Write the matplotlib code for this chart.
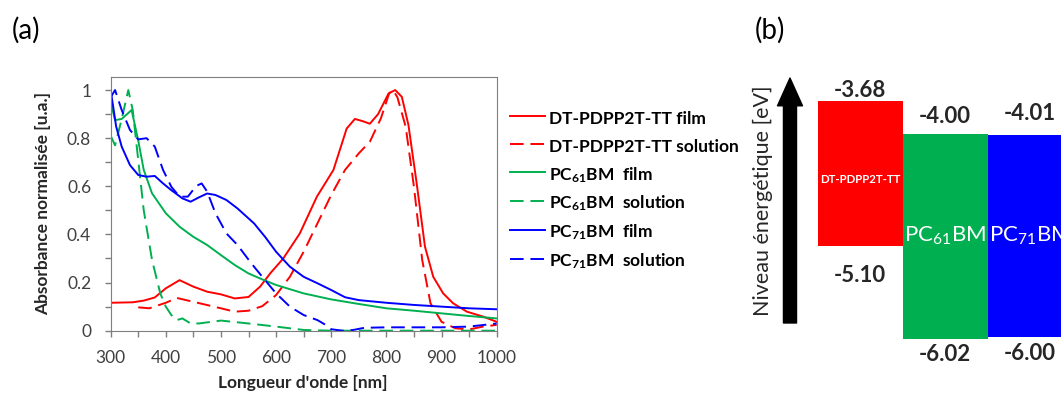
import numpy as np
import matplotlib
matplotlib.use("Agg")
import matplotlib.pyplot as plt
from matplotlib.patches import FancyArrowPatch
from matplotlib.ticker import MultipleLocator

plt.rcParams['font.family'] = ['Lato', 'DejaVu Sans']
plt.rcParams['mathtext.default'] = 'regular'

# --- absorption spectra ---
red_film_x = [300, 340, 360, 380, 400, 425, 450, 475, 500, 525, 550, 571, 590, 613, 643, 674, 704,
              728, 743, 758, 770, 785, 804, 816, 828, 840, 855, 870, 885, 903, 921, 946, 976, 1000]
red_film_y = [0.116, 0.118, 0.125, 0.138, 0.176, 0.21, 0.183, 0.162, 0.151, 0.134, 0.14, 0.183, 0.24,
              0.30, 0.404, 0.557, 0.668, 0.84, 0.88, 0.87, 0.86, 0.90, 0.986, 1.0, 0.972, 0.855,
              0.612, 0.349, 0.224, 0.155, 0.114, 0.079, 0.058, 0.037]

red_sol_x = [350, 370, 400, 420, 450, 500, 525, 550, 575, 600, 625, 650, 675, 700, 725, 750, 770,
             790, 805, 812, 820, 835, 850, 865, 880, 900, 925, 950, 975, 1000]
red_sol_y = [0.097, 0.093, 0.116, 0.136, 0.12, 0.093, 0.079, 0.083, 0.102, 0.148, 0.224, 0.328,
             0.446, 0.564, 0.668, 0.737, 0.785, 0.882, 0.986, 1.0, 0.97, 0.848, 0.598, 0.294,
             0.114, 0.037, 0.01, 0.005, 0.017, 0.024]

green_film_x = [300, 308, 320, 338, 350, 360, 375, 400, 425, 450, 475, 500, 525, 550, 575, 600,
                650, 700, 750, 800, 850, 900, 950, 1000]
green_film_y = [0.95, 0.875, 0.88, 0.917, 0.79, 0.668, 0.571, 0.488, 0.432, 0.39, 0.356, 0.314,
                0.273, 0.238, 0.213, 0.19, 0.155, 0.13, 0.111, 0.093, 0.083, 0.072, 0.061, 0.051]

green_sol_x = [300, 308, 320, 332, 340, 350, 360, 375, 390, 400, 410, 420, 430, 445, 460, 500, 550,
               600, 650, 700, 800, 900, 1000]
green_sol_y = [0.81, 0.77, 0.88, 1.0, 0.917, 0.709, 0.50, 0.294, 0.155, 0.10, 0.065, 0.044, 0.051,
               0.03, 0.03, 0.042, 0.03, 0.017, 0.003, 0.0, 0.0, 0.0, 0.0]

blue_film_x = [300, 310, 320, 335, 350, 365, 380, 395, 410, 430, 445, 460, 475, 490, 510, 530, 560,
               580, 600, 625, 650, 675, 700, 725, 750, 800, 850, 900, 950, 1000]
blue_film_y = [1.0, 0.848, 0.765, 0.688, 0.647, 0.64, 0.643, 0.612, 0.584, 0.55, 0.536, 0.554,
               0.57, 0.564, 0.543, 0.508, 0.446, 0.39, 0.328, 0.266, 0.224, 0.197, 0.169, 0.139,
               0.127, 0.116, 0.107, 0.10, 0.093, 0.089]

blue_sol_x = [300, 308, 320, 335, 350, 365, 380, 395, 410, 425, 440, 455, 465, 475, 490, 510, 530,
              555, 580, 600, 625, 650, 675, 690, 700, 720, 740, 760, 800, 900, 950, 1000]
blue_sol_y = [0.97, 1.0, 0.917, 0.834, 0.795, 0.80, 0.765, 0.668, 0.598, 0.557, 0.557, 0.601,
              0.612, 0.578, 0.488, 0.404, 0.356, 0.28, 0.21, 0.155, 0.10, 0.065, 0.044, 0.024,
              0.006, 0.0, 0.003, 0.012, 0.014, 0.014, 0.017, 0.03]

series_labels = ["DT-PDPP2T-TT film", "DT-PDPP2T-TT solution",
                 "PC$_{61}$BM  film", "PC$_{61}$BM  solution",
                 "PC$_{71}$BM  film", "PC$_{71}$BM  solution"]

# --- energy levels [eV] ---
materials = ["DT-PDPP2T-TT", "PC$_{61}$BM", "PC$_{71}$BM"]
lumo = [-3.68, -4.00, -4.01]
homo = [-5.10, -6.02, -6.00]
level_labels_top = ["-3.68", "-4.00", "-4.01"]
level_labels_bot = ["-5.10", "-6.02", "-6.00"]

RED, GREEN, BLUE = "#FF0000", "#00B050", "#0000FF"
TXT = "#262626"

fig = plt.figure(figsize=(10.61, 3.94), dpi=100)

# ---------------- panel (a) ----------------
ax = fig.add_axes([0.1043, 0.1607, 0.3638, 0.6431])
dash = (7, 3.5)
curves = [(red_film_x, red_film_y, RED, None), (red_sol_x, red_sol_y, RED, dash),
          (green_film_x, green_film_y, GREEN, None), (green_sol_x, green_sol_y, GREEN, dash),
          (blue_film_x, blue_film_y, BLUE, None), (blue_sol_x, blue_sol_y, BLUE, dash)]
for (xs, ys, c, d), lab in zip(curves, series_labels):
    line, = ax.plot(xs, ys, color=c, lw=1.4, label=lab)
    if d:
        line.set_dashes(d)

ax.set_xlim(300, 1000)
ax.set_ylim(0, 1.053)
ax.xaxis.set_major_locator(MultipleLocator(100))
ax.xaxis.set_minor_locator(MultipleLocator(50))
ax.yaxis.set_major_locator(MultipleLocator(0.2))
ax.yaxis.set_minor_locator(MultipleLocator(0.1))
ax.yaxis.set_major_formatter(lambda v, p: "0" if v == 0 else ("1" if abs(v - 1) < 1e-9 else f"{v:.1f}"))
ax.tick_params(which='both', direction='out', length=4, width=1, color='#7f7f7f',
               labelsize=12.5, labelcolor='#404040')
ax.tick_params(axis='x', which='major', pad=10)
ax.tick_params(axis='y', which='major', pad=10)
for s in ax.spines.values():
    s.set_color('#7f7f7f')
ax.set_xlabel("Longueur d'onde [nm]", fontsize=12.5, fontweight='bold', color=TXT)
ax.set_ylabel("Absorbance normalisée [u.a.]", fontsize=12.5, fontweight='bold', color=TXT)
ax.xaxis.set_label_coords(0.498, -0.206)
ax.yaxis.set_label_coords(-0.175, 0.5)
ax.xaxis.label.set_va('center')
ax.yaxis.label.set_va('center')

ax.legend(loc='upper left', bbox_to_anchor=(510 / 1061, 1 - 108 / 394),
          bbox_transform=fig.transFigure, frameon=False, borderpad=0, borderaxespad=0,
          handlelength=2.0, handleheight=1.35, handletextpad=0.25, labelspacing=0.5,
          prop={'size': 12.5, 'weight': 'bold'})

fig.text(12 / 1061, 1 - 30 / 394, "(a)", fontsize=20, va='center', ha='left')
fig.text(755 / 1061, 1 - 30 / 394, "(b)", fontsize=20, va='center', ha='left')

# ---------------- panel (b) ----------------
bx = fig.add_axes([740 / 1061, 0, 321 / 1061, 1])
bx.set_xlim(-0.914, 2.862)
bx.set_ylim(-6.561, -2.683)
bx.axis('off')

colors = [RED, GREEN, BLUE]
pos = np.arange(len(materials))
bx.bar(pos, np.array(lumo) - np.array(homo), bottom=homo, width=1.0, align='edge',
       color=colors, edgecolor='none', clip_on=False)

top_pad = [0.0, 0.07, 0.11]
bot_pad = [0.19, 0.05, 0.06]
for i in pos:
    bx.text(i + 0.5, lumo[i] + top_pad[i], level_labels_top[i], ha='center', va='bottom',
            fontsize=16, fontweight='bold', color=TXT)
    bx.text(i + 0.5, homo[i] - bot_pad[i], level_labels_bot[i], ha='center', va='top',
            fontsize=16, fontweight='bold', color=TXT)

bx.text(0.5, (lumo[0] + homo[0]) / 2 - 0.06, materials[0], ha='center', va='center',
        fontsize=8.2, fontweight='bold', color='white')
for i in (1, 2):
    bx.text(i + 0.5, -5.0, materials[i], ha='center', va='center', fontsize=16, color='white')

arrow = FancyArrowPatch((-0.326, -5.862), (-0.326, -3.451),
                        arrowstyle="simple,head_length=2.0,head_width=1.8,tail_width=0.94",
                        mutation_scale=10, color='black', shrinkA=0, shrinkB=0)
bx.add_patch(arrow)
fig.text(763 / 1061, 1 - 201 / 394, "Niveau énergétique [eV]", rotation=90, ha='center',
         va='center', fontsize=15.5, color=TXT)

fig.savefig("out.png", dpi=100)
